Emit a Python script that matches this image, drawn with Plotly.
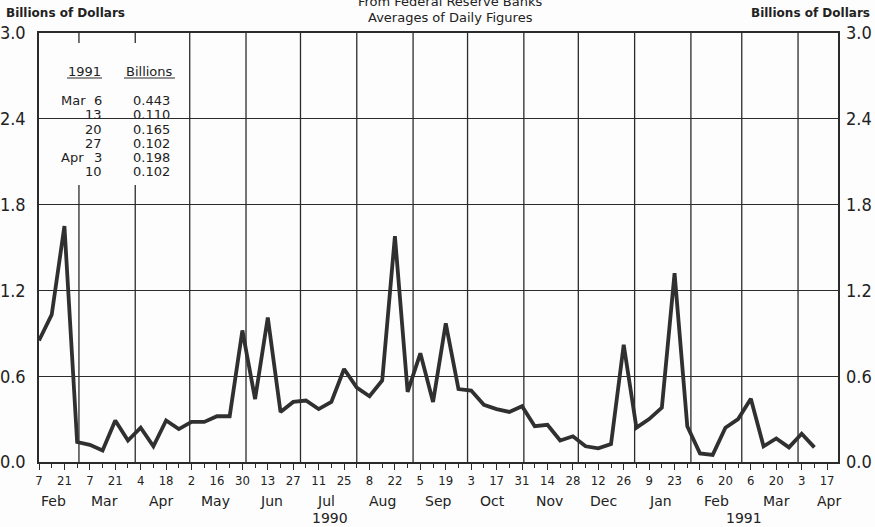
import plotly.graph_objects as go
import pandas as pd

# ---------------- data ----------------
start_date = "1990-02-07"
values = [0.85, 1.03, 1.65, 0.14, 0.12, 0.08, 0.29, 0.15, 0.24, 0.11,
          0.29, 0.23, 0.28, 0.28, 0.32, 0.32, 0.92, 0.44, 1.01, 0.35,
          0.42, 0.43, 0.37, 0.42, 0.65, 0.52, 0.46, 0.57, 1.58, 0.49,
          0.76, 0.42, 0.97, 0.51, 0.50, 0.40, 0.37, 0.35, 0.39, 0.25,
          0.26, 0.15, 0.18, 0.11, 0.095, 0.125, 0.82, 0.24, 0.30, 0.38,
          1.32, 0.25, 0.06, 0.05, 0.24, 0.30, 0.443, 0.110, 0.165, 0.102,
          0.198, 0.102]
weeks = pd.date_range(start_date, periods=len(values), freq="7D")

tick_dates = pd.date_range(start_date, "1991-04-17", freq="14D")
tick_text = [str(d.day) for d in tick_dates]

month_starts = pd.date_range("1990-03-01", "1991-04-01", freq="MS")
month_labels = ["Feb", "Mar", "Apr", "May", "Jun", "Jul", "Aug", "Sep",
                "Oct", "Nov", "Dec", "Jan", "Feb", "Mar", "Apr"]
month_label_dates = ["1990-02-15", "1990-03-15", "1990-04-15", "1990-05-15",
                     "1990-06-15", "1990-07-15", "1990-08-15", "1990-09-15",
                     "1990-10-15", "1990-11-15", "1990-12-15", "1991-01-15",
                     "1991-02-15", "1991-03-20", "1991-04-18"]
year_labels = ["1990", "1991"]
year_label_dates = ["1990-07-17", "1991-03-02"]

y_ticks = [0.0, 0.6, 1.2, 1.8, 2.4, 3.0]
y_ticktext = ["0.0", "0.6", "1.2", "1.8", "2.4", "3.0"]

table_months = ["Mar", "", "", "", "Apr", ""]
table_days = [6, 13, 20, 27, 3, 10]
table_values = [0.443, 0.110, 0.165, 0.102, 0.198, 0.102]

# ---------------- layout helpers ----------------
L, R, T, B = 39, 838, 33, 462
W, H = 875, 527
def px2x(px):
    return (px - L) / (R - L)
def px2y(py):
    return (B - py) / (B - T)

ink = "#2b2b2b"
narrow = "DejaVu Sans Condensed, Liberation Sans Narrow, sans-serif"
round_font = "DejaVu Sans, Noto Sans, sans-serif"

fig = go.Figure()
fig.add_trace(go.Scatter(x=weeks, y=values, mode="lines",
                         line=dict(color="#303030", width=3.8),
                         showlegend=False, hoverinfo="x+y"))
# invisible trace for right axis
fig.add_trace(go.Scatter(x=weeks, y=values, mode="lines", yaxis="y2",
                         line=dict(width=0), opacity=0,
                         showlegend=False, hoverinfo="skip"))

fig.update_layout(
    width=W, height=H,
    margin=dict(l=L, r=W - R, t=T, b=H - B, autoexpand=False),
    paper_bgcolor="#fdfdfd", plot_bgcolor="#fdfdfd",
    xaxis=dict(
        type="date", range=["1990-02-07", "1991-04-23"], automargin=False,
        tickmode="array", tickvals=tick_dates, ticktext=tick_text,
        ticks="outside", ticklen=6, tickwidth=1.3, tickcolor=ink,
        showgrid=False, showline=True, linecolor=ink, linewidth=1.5,
        mirror=True, zeroline=False,
        tickfont=dict(family=narrow, size=13, color="#222"),
        minor=dict(ticks="outside", ticklen=4, tickwidth=1.2, tickcolor=ink,
                   tick0=start_date, dtick=7 * 86400000, showgrid=False),
    ),
    yaxis=dict(
        range=[0, 3], tickmode="array", tickvals=y_ticks, ticktext=y_ticktext,
        showgrid=True, gridcolor=ink, gridwidth=1.3, automargin=False,
        showline=True, linecolor=ink, linewidth=1.5, mirror=True,
        zeroline=False, ticks="", ticklabelstandoff=8,
        tickfont=dict(family=narrow, size=18, color="#222"),
    ),
    yaxis2=dict(
        range=[0, 3], overlaying="y", side="right", tickmode="array",
        tickvals=y_ticks, ticktext=y_ticktext, showgrid=False,
        zeroline=False, ticks="", ticklabelstandoff=7, automargin=False,
        tickfont=dict(family=narrow, size=18, color="#222"),
    ),
)

shapes = []
for d in month_starts:
    shapes.append(dict(type="line", xref="x", yref="paper", x0=d, x1=d,
                       y0=0, y1=1, layer="between",
                       line=dict(color=ink, width=1.3)))
# white inset behind the table
shapes.append(dict(type="rect", xref="paper", yref="paper",
                   x0=px2x(53), x1=px2x(178), y0=px2y(185), y1=px2y(43),
                   layer="between", fillcolor="#fdfdfd",
                   line=dict(width=0)))
# underlines of table headers
shapes.append(dict(type="line", xref="paper", yref="paper",
                   x0=px2x(67), x1=px2x(102), y0=px2y(78), y1=px2y(78),
                   line=dict(color=ink, width=1.2)))
shapes.append(dict(type="line", xref="paper", yref="paper",
                   x0=px2x(124), x1=px2x(175), y0=px2y(78), y1=px2y(78),
                   line=dict(color=ink, width=1.2)))
fig.update_layout(shapes=shapes)

ann = []
def add_text(text, px, py, xanchor="center", size=13, family=round_font):
    ann.append(dict(text=text, x=px, y=px2y(py), xref="paper", yref="paper",
                    xanchor=xanchor, yanchor="middle", showarrow=False,
                    font=dict(family=family, size=size, color="#222")))

# titles
add_text("From Federal Reserve Banks", px2x(450), 1, size=13)
add_text("Averages of Daily Figures", px2x(450), 18, size=13)
add_text("<b>Billions of Dollars</b>", px2x(4), 13, xanchor="left", size=12)
add_text("<b>Billions of Dollars</b>", px2x(872), 13, xanchor="right", size=12)

# month and year labels
for lab, d in zip(month_labels, month_label_dates):
    ann.append(dict(text=lab, x=d, y=px2y(501), xref="x", yref="paper",
                    xanchor="center", yanchor="middle", showarrow=False,
                    font=dict(family=round_font, size=14, color="#222")))
for lab, d in zip(year_labels, year_label_dates):
    ann.append(dict(text=lab, x=d, y=px2y(518), xref="x", yref="paper",
                    xanchor="center", yanchor="middle", showarrow=False,
                    font=dict(family=round_font, size=14, color="#222")))

# inset table
add_text("1991", px2x(84.5), 71, size=13)
add_text("Billions", px2x(149.5), 71, size=13)
for i, (m, dd, v) in enumerate(zip(table_months, table_days, table_values)):
    py = 101 + i * 14
    if m:
        add_text(m, px2x(59), py, xanchor="left", size=13)
    add_text(str(dd), px2x(104), py, xanchor="right", size=13)
    add_text(f"{v:.3f}", px2x(172), py, xanchor="right", size=13)

fig.update_layout(annotations=ann)
fig.write_html("out.html", config={"displayModeBar": False},
               post_script="document.body.style.margin='0';")
